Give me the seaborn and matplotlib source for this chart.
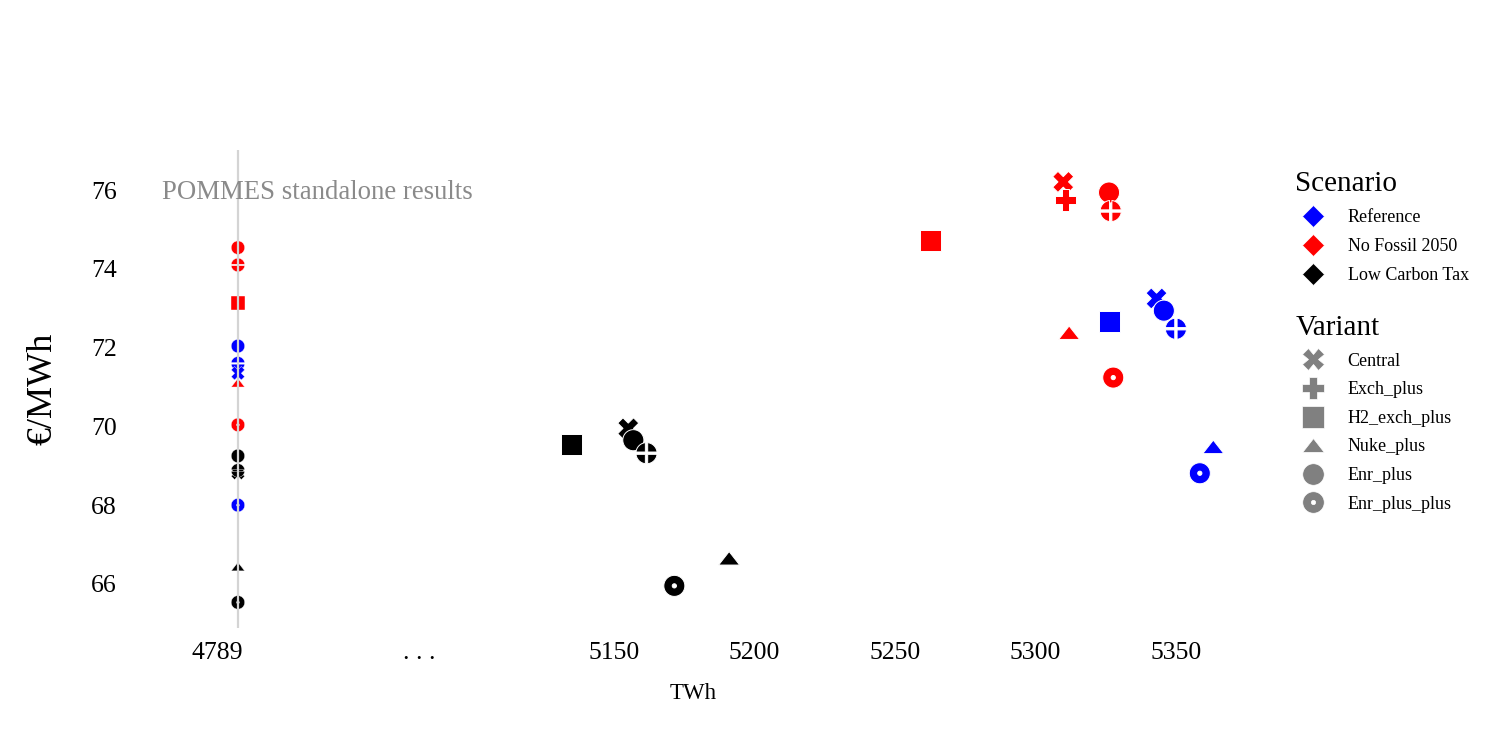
import numpy as np
import pandas as pd
import matplotlib
matplotlib.use("Agg")
import matplotlib.pyplot as plt
from matplotlib.path import Path
from matplotlib.lines import Line2D
import seaborn as sns

# --- data ---
scenarios = ["Reference", "No Fossil 2050", "Low Carbon Tax"]
variants = ["Central", "Exch_plus", "H2_exch_plus", "Nuke_plus", "Enr_plus", "Enr_plus_plus"]
extra_variant = "Enr_exch_plus"   # drawn on the chart, not listed in the legend

# coupled results (TWh, EUR/MWh), one row per variant, order = variants + extra
ref_twh = [5343.1, 5345.5, 5326.3, 5363.3, 5345.7, 5358.5, 5350.0]
ref_price = [73.25, 72.95, 72.66, 69.48, 72.94, 68.81, 72.48]
nofossil_twh = [5309.9, 5310.7, 5262.5, 5312.0, 5326.2, 5327.7, 5326.8]
nofossil_price = [76.21, 75.75, 74.73, 72.38, 75.94, 71.24, 75.47]
lowtax_twh = [5155.1, 5157.0, 5134.9, 5191.0, 5156.9, 5171.5, 5161.6]
lowtax_price = [69.95, 69.65, 69.55, 66.65, 69.65, 65.95, 69.32]

# POMMES standalone results (all at 4789 TWh)
standalone_twh = 4789
sa_scenario = ["No Fossil 2050", "No Fossil 2050", "No Fossil 2050", "Reference", "Reference",
               "Reference", "No Fossil 2050", "No Fossil 2050", "Low Carbon Tax", "Low Carbon Tax",
               "Low Carbon Tax", "Reference", "Low Carbon Tax", "Low Carbon Tax"]
sa_variant = ["Enr_plus", "Enr_exch_plus", "H2_exch_plus", "Enr_plus", "Enr_exch_plus",
              "Central", "Nuke_plus", "Enr_plus_plus", "Enr_plus", "Central",
              "Enr_exch_plus", "Enr_plus_plus", "Nuke_plus", "Enr_plus_plus"]
sa_price = [74.54, 74.10, 73.14, 72.04, 71.60, 71.35, 71.11, 70.04, 69.25, 68.82,
            68.88, 68.00, 66.44, 65.53]

colors = {"Reference": "#0000ff", "No Fossil 2050": "#ff0000", "Low Carbon Tax": "#000000"}

# x axis is broken: the standalone column sits left of the "..." gap
SA_POS = 5016.2
SA_TICK = 5008.7
GAP_TICK = 5080.6


def poly(theta, r):
    return np.column_stack([r * np.cos(theta), r * np.sin(theta)])


def circle_dot_marker():
    t = np.linspace(0, 2 * np.pi, 60)
    outer = poly(t, 1.0)
    inner = poly(t[::-1], 0.2)
    verts = np.vstack([outer, inner])
    codes = ([Path.MOVETO] + [Path.LINETO] * 58 + [Path.CLOSEPOLY]) * 2
    return Path(verts, codes)


def circle_cross_marker(g=0.11):
    verts, codes = [], []
    a = np.arcsin(g)
    for k in range(4):
        t = np.linspace(k * np.pi / 2 + a, (k + 1) * np.pi / 2 - a, 15)
        arc = poly(t, 1.0)
        sx = np.sign(np.cos(k * np.pi / 2 + np.pi / 4))
        sy = np.sign(np.sin(k * np.pi / 2 + np.pi / 4))
        pts = np.vstack([[sx * g, sy * g], arc, [sx * g, sy * g]])
        verts.append(pts)
        codes += [Path.MOVETO] + [Path.LINETO] * (len(pts) - 2) + [Path.CLOSEPOLY]
    return Path(np.vstack(verts), codes)


tri = Path([(-1, -0.64), (1, -0.64), (0, 0.64), (-1, -0.64)],
           [Path.MOVETO, Path.LINETO, Path.LINETO, Path.CLOSEPOLY])

markers = {"Central": "X", "Exch_plus": "P", "H2_exch_plus": "s", "Nuke_plus": tri,
           "Enr_plus": "o", "Enr_plus_plus": circle_dot_marker(),
           "Enr_exch_plus": circle_cross_marker()}

order = variants + [extra_variant]
rows = []
for scen, xs, ys in [("Reference", ref_twh, ref_price),
                     ("No Fossil 2050", nofossil_twh, nofossil_price),
                     ("Low Carbon Tax", lowtax_twh, lowtax_price)]:
    for v, x, y in zip(order, xs, ys):
        rows.append({"scenario": scen, "variant": v, "twh": x, "price": y})
coupled = pd.DataFrame(rows)
coupled["rank"] = coupled["variant"].map(order.index)
coupled = coupled.sort_values(["rank"], kind="stable")

standalone = pd.DataFrame({"scenario": sa_scenario, "variant": sa_variant, "price": sa_price})
standalone["pos"] = SA_POS

sns.set_theme(style="white")
plt.rcParams["font.family"] = ["Liberation Serif", "DejaVu Serif"]
plt.rcParams.update({"text.color": "black", "axes.labelcolor": "black",
                     "xtick.color": "black", "ytick.color": "black"})

fig = plt.figure(figsize=(14.95, 7.48), dpi=100)
ax = fig.add_axes([150 / 1495, 1 - 628 / 748, 1115 / 1495, 478 / 748])

sns.scatterplot(data=coupled, x="twh", y="price", hue="scenario", style="variant",
                palette=colors, markers=markers, s=230, edgecolor="white",
                linewidth=0.7, legend=False, ax=ax, zorder=3)
sns.scatterplot(data=standalone, x="pos", y="price", hue="scenario", style="variant",
                palette=colors, markers=markers, s=95, edgecolor="white",
                linewidth=0.3, legend=False, ax=ax, zorder=3)
ax.axvline(SA_POS, color="#d4d4d4", lw=1.6, zorder=4)

ax.text(4989.2, 75.95, "POMMES standalone results",
        fontsize=19.3, color="#8a8a8a", va="center", ha="left", zorder=5)

ax.set_xlim(4984.9, 5381.7)
ax.set_ylim(64.88, 77.02)
ax.set_xticks([SA_TICK, GAP_TICK, 5150, 5200, 5250, 5300, 5350])
ax.set_xticklabels([str(standalone_twh), ". . .", "5150", "5200", "5250", "5300", "5350"])
ax.set_yticks([66, 68, 70, 72, 74, 76])
ax.tick_params(axis="x", labelsize=18.5, length=0, pad=10)
ax.tick_params(axis="y", labelsize=18.5, length=0, pad=24)
ax.set_xlabel("TWh", fontsize=16.5)
ax.xaxis.set_label_coords((693 - 150) / 1115, -0.115)
ax.set_ylabel("€/MWh", fontsize=26)
ax.yaxis.set_label_coords(-0.081, 0.5)
for sp in ax.spines.values():
    sp.set_visible(False)

# legends
scen_handles = [Line2D([], [], ls="", marker="D", ms=11, color=colors[s], mec="white", mew=0.5)
                for s in scenarios]
var_handles = [Line2D([], [], ls="", marker=markers[v], ms=15.5, color="#808080", mec="white", mew=0.5)
               for v in variants]
leg1 = fig.legend(scen_handles, scenarios, title="Scenario", loc="upper left",
                  bbox_to_anchor=(1288 / 1495, 1 - 164 / 748), frameon=False, fontsize=13,
                  title_fontsize=21, alignment="left", handletextpad=0.9, labelspacing=0.66,
                  borderaxespad=0)
leg2 = fig.legend(var_handles, variants, title="Variant", loc="upper left",
                  bbox_to_anchor=(1288 / 1495, 1 - 308 / 748), frameon=False, fontsize=13,
                  title_fontsize=21, alignment="left", handletextpad=0.9, labelspacing=0.64,
                  borderaxespad=0)

fig.savefig("out.png", dpi=100)
